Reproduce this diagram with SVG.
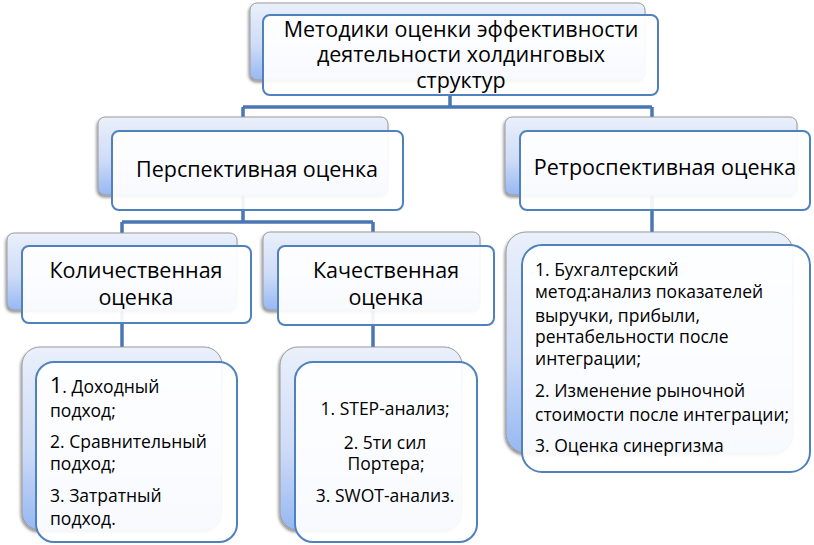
<svg xmlns="http://www.w3.org/2000/svg" width="814" height="545" viewBox="0 0 814 545">
<defs>
<linearGradient id="g" x1="0" y1="0" x2="0" y2="1">
<stop offset="0" stop-color="#eaf0fb"/>
<stop offset="0.55" stop-color="#cfdcf7"/>
<stop offset="1" stop-color="#96b8f2"/>
</linearGradient>
<filter id="sh" x="-10%" y="-10%" width="120%" height="130%">
<feDropShadow dx="-1" dy="2" stdDeviation="1.5" flood-color="#000" flood-opacity="0.45"/>
</filter>
</defs>
<style>
.back{fill:url(#g);stroke:#9a9a9a;stroke-width:1;filter:url(#sh)}
.front{fill:#ffffff;fill-opacity:0.92;stroke:#4f81bd;stroke-width:2}
.conn{fill:none;stroke:#4a77b4;stroke-width:3.5}
text{font-family:"Open Sans","Liberation Sans",Arial,sans-serif;fill:#000}
.h{font-size:21.5px;text-anchor:middle}
.l{font-size:17.5px}
.c{font-size:17.5px;text-anchor:middle}
</style>
<rect width="814" height="545" fill="#ffffff"/>
<g id="connectors">
<path class="conn" d="M450 80V107M243 107H652M243 107V117M652 107V117"/>
<path class="conn" d="M243 195V222M122 222H373M122 222V233M373 222V233"/>
<path class="conn" d="M122 310V347M373 310V347"/>
<path class="conn" d="M652 195V232"/>
</g>
<g id="root">
<rect class="back" x="250" y="3" width="395" height="77" rx="7"/>
<rect class="front" x="263" y="15" width="395" height="80" rx="7"/>
<text class="h" x="461" y="37">Методики оценки эффективности</text>
<text class="h" x="461" y="62">деятельности холдинговых</text>
<text class="h" x="461" y="88">структур</text>
</g>
<g id="perspective">
<rect class="back" x="98" y="117" width="290" height="78" rx="7"/>
<rect class="front" x="112" y="131" width="291" height="79" rx="7"/>
<text class="h" x="257" y="177">Перспективная оценка</text>
</g>
<g id="retro">
<rect class="back" x="505" y="117" width="292" height="78" rx="7"/>
<rect class="front" x="520" y="131" width="290" height="79" rx="7"/>
<text class="h" x="665" y="175">Ретроспективная оценка</text>
</g>
<g id="quant">
<rect class="back" x="7" y="233" width="230" height="77" rx="7"/>
<rect class="front" x="22" y="246" width="229" height="77" rx="7"/>
<text class="h" x="136" y="278">Количественная</text>
<text class="h" x="136" y="305">оценка</text>
</g>
<g id="qual">
<rect class="back" x="263" y="232" width="217" height="78" rx="7"/>
<rect class="front" x="278" y="246" width="216" height="79" rx="7"/>
<text class="h" x="386" y="278">Качественная</text>
<text class="h" x="386" y="305">оценка</text>
</g>
<g id="quant-list">
<rect class="back" x="22" y="347" width="200" height="183" rx="18"/>
<rect class="front" x="36" y="362" width="201" height="180" rx="18"/>
<text class="l" x="50" y="393"><tspan font-size="21.5px">1</tspan>. Доходный</text>
<text class="l" x="50" y="417">подход;</text>
<text class="l" x="50" y="448">2. Сравнительный</text>
<text class="l" x="50" y="470">подход;</text>
<text class="l" x="50" y="502">3. Затратный</text>
<text class="l" x="50" y="525">подход.</text>
</g>
<g id="qual-list">
<rect class="back" x="280" y="347" width="182" height="183" rx="18"/>
<rect class="front" x="295" y="362" width="182" height="180" rx="18"/>
<text class="c" x="385" y="415">1. STEP-анализ;</text>
<text class="c" x="385" y="449">2. 5ти сил</text>
<text class="c" x="386" y="470">Портера;</text>
<text class="c" x="385" y="502">3. SWOT-анализ.</text>
</g>
<g id="retro-list">
<rect class="back" x="506" y="232" width="287" height="221" rx="20"/>
<rect class="front" x="522" y="245" width="288" height="227" rx="20"/>
<text class="l" x="535" y="276">1. Бухгалтерский</text>
<text class="l" x="535" y="298">метод:анализ показателей</text>
<text class="l" x="535" y="322">выручки, прибыли,</text>
<text class="l" x="535" y="343">рентабельности после</text>
<text class="l" x="535" y="365">интеграции;</text>
<text class="l" x="535" y="397">2. Изменение рыночной</text>
<text class="l" x="535" y="421">стоимости после интеграции;</text>
<text class="l" x="535" y="452">3. Оценка синергизма</text>
</g>
</svg>
